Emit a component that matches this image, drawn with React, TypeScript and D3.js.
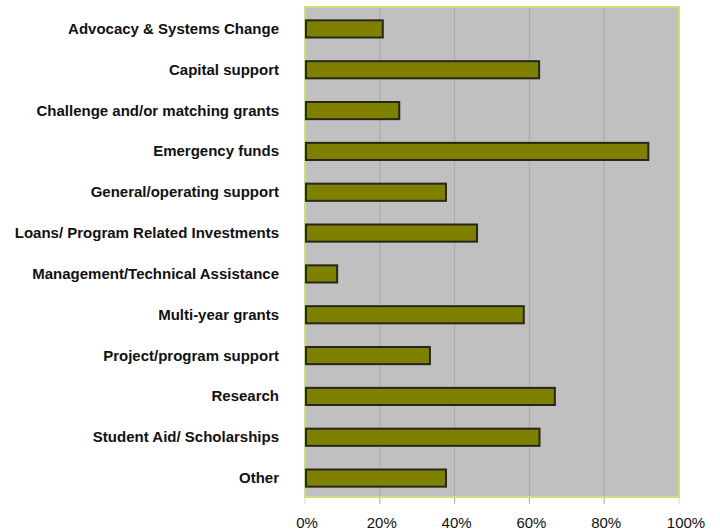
import React from "react";
import * as d3 from "d3";

const categories = [
  "Advocacy & Systems Change",
  "Capital support",
  "Challenge and/or matching grants",
  "Emergency funds",
  "General/operating support",
  "Loans/ Program Related Investments",
  "Management/Technical Assistance",
  "Multi-year grants",
  "Project/program support",
  "Research",
  "Student Aid/ Scholarships",
  "Other",
];

const values = [20.8, 62.6, 25.2, 91.8, 37.7, 46.0, 8.6, 58.5, 33.4, 66.8, 62.7, 37.7];

const tickValues = [0, 20, 40, 60, 80, 100];

export default function App() {
  const width = 720;
  const height = 531;
  const left = 305;
  const right = 679;
  const top = 7;
  const bottom = 497;

  const x = d3.scaleLinear().domain([0, 100]).range([left, right]);
  const y = d3
    .scaleBand<string>()
    .domain(categories)
    .range([top + 1.5, bottom + 1.5])
    .paddingInner(0.58)
    .paddingOuter(0.29);

  const font = "'Liberation Sans', Arial, sans-serif";

  return (
    <svg
      width={width}
      height={height}
      style={{ position: "absolute", left: 0, top: 0, background: "#ffffff" }}
    >
      <rect x={left} y={top} width={right - left} height={bottom - top} fill="#c0c0c0" />
      {tickValues.map((t) => (
        <line
          key={"g" + t}
          x1={x(t)}
          x2={x(t)}
          y1={t === 0 || t === 100 ? bottom : top}
          y2={bottom + 7}
          stroke={t === 0 || t === 100 ? "#d8d8d8" : "#a9a9a9"}
          strokeWidth={1}
        />
      ))}
      <rect
        x={left}
        y={top}
        width={right - left}
        height={bottom - top}
        fill="none"
        stroke="#cadf78"
        strokeWidth={2}
      />
      {categories.map((c, i) => (
        <rect
          key={"b" + c}
          x={x(0) + 1}
          y={y(c)!}
          width={x(values[i]) - x(0) - 1}
          height={y.bandwidth()}
          fill="#808000"
          stroke="#26261a"
          strokeWidth={2}
        />
      ))}
      {categories.map((c) => (
        <text
          key={"l" + c}
          x={279}
          y={y(c)! + y.bandwidth() / 2 + 5}
          textAnchor="end"
          fontFamily={font}
          fontWeight="bold"
          fontSize={15}
          fill="#111"
        >
          {c}
        </text>
      ))}
      {tickValues.map((t) => (
        <text
          key={"t" + t}
          x={x(t) + (t === 100 ? 7 : 2)}
          y={528}
          textAnchor="middle"
          fontFamily={font}
          fontSize={15}
          fill="#111"
        >
          {t + "%"}
        </text>
      ))}
    </svg>
  );
}
